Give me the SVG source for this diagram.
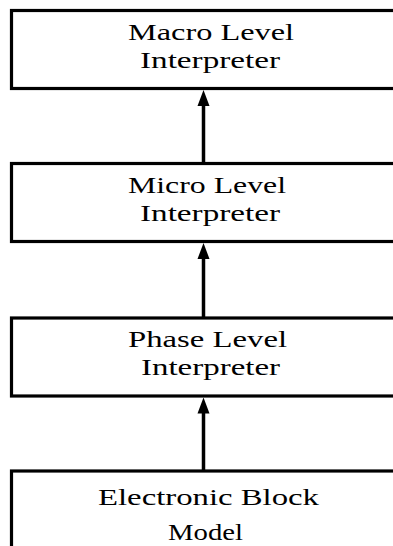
<svg xmlns="http://www.w3.org/2000/svg" width="393" height="546" viewBox="0 0 393 546">
<defs>
<style>
.box{fill:#fff;stroke:#000;stroke-width:3.2}
.lbl{font-family:'Liberation Serif','DejaVu Serif',serif;font-size:24px;fill:#000}
.conn{stroke:#000;stroke-width:3.5;fill:none}
.head{fill:#000;stroke:none}
</style>
</defs>
<g id="macro">
<rect class="box" x="11.5" y="10.5" width="400" height="78"/>
<text class="lbl" x="128" y="40" textLength="166" lengthAdjust="spacingAndGlyphs">Macro Level</text>
<text class="lbl" x="140" y="68" textLength="140" lengthAdjust="spacingAndGlyphs">Interpreter</text>
</g>
<g id="micro">
<rect class="box" x="11.5" y="163.5" width="400" height="78"/>
<text class="lbl" x="128" y="193" textLength="158" lengthAdjust="spacingAndGlyphs">Micro Level</text>
<text class="lbl" x="140" y="221" textLength="140" lengthAdjust="spacingAndGlyphs">Interpreter</text>
</g>
<g id="phase">
<rect class="box" x="11.5" y="318" width="400" height="78"/>
<text class="lbl" x="128" y="347" textLength="159" lengthAdjust="spacingAndGlyphs">Phase Level</text>
<text class="lbl" x="141" y="375" textLength="139" lengthAdjust="spacingAndGlyphs">Interpreter</text>
</g>
<g id="electronic">
<rect class="box" x="11.5" y="471" width="400" height="100"/>
<text class="lbl" x="98" y="505" textLength="221" lengthAdjust="spacingAndGlyphs">Electronic Block</text>
<text class="lbl" x="168" y="540" textLength="75" lengthAdjust="spacingAndGlyphs">Model</text>
</g>
<g id="connectors">
<line class="conn" x1="203.5" y1="163.5" x2="203.5" y2="100"/>
<path class="head" d="M203.5,90 L209.5,106 L197.5,106 Z"/>
<line class="conn" x1="203.5" y1="318" x2="203.5" y2="253"/>
<path class="head" d="M203.5,243 L209.5,259 L197.5,259 Z"/>
<line class="conn" x1="203.5" y1="471" x2="203.5" y2="407"/>
<path class="head" d="M203.5,397.5 L209.5,413.5 L197.5,413.5 Z"/>
</g>
</svg>
